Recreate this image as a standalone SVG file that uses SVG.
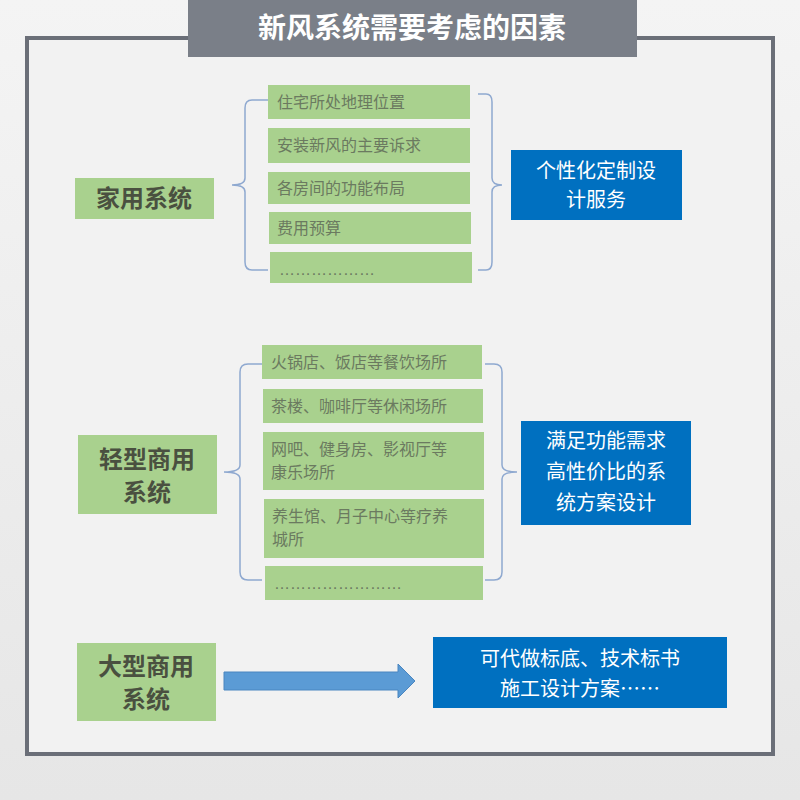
<svg xmlns="http://www.w3.org/2000/svg" width="800" height="800" viewBox="0 0 800 800">
<defs>
<linearGradient id="bg" x1="0" y1="0" x2="0" y2="1"><stop offset="0" stop-color="#f4f4f4"/><stop offset="1" stop-color="#e6e6e6"/></linearGradient>
</defs>
<style>
.g{fill:#a9d18e}
.it{font-family:"Liberation Sans","Noto Sans CJK SC",sans-serif;font-size:16px;fill:#6b7a60}
.hd{font-family:"Noto Sans CJK SC",sans-serif;font-size:24px;font-weight:bold;fill:#4a5040}
.b{fill:#0070c0}
.bt{font-family:"Noto Sans CJK SC",sans-serif;font-size:20px;fill:#fff;text-anchor:middle}
.br{fill:none;stroke:#8fa9d0;stroke-width:1.5}
</style>
<rect width="800" height="800" fill="url(#bg)"/>
<rect x="27" y="38" width="746" height="716" fill="#f2f2f2" stroke="#6b6f78" stroke-width="4"/>
<g id="title"><rect x="188" y="0" width="449" height="57" fill="#7a7f88"/>
<text x="412" y="38" font-family="Noto Sans CJK SC,sans-serif" font-size="28" font-weight="bold" fill="#fff" text-anchor="middle">新风系统需要考虑的因素</text></g>
<g id="connectors">
<path class="br" d="M268,100 H252 Q245,100 245,108 V178 Q245,185 232,185 Q245,185 245,192 V262 Q245,270 252,270 H268"/>
<path class="br" d="M478,94 H486 Q492,94 492,102 V178 Q492,185 502,185 Q492,185 492,192 V262 Q492,270 486,270 H478"/>
<path class="br" d="M262,364 H248 Q240,364 240,372 V465 Q240,472 224,472 Q240,472 240,479 V572 Q240,580 248,580 H262"/>
<path class="br" d="M485,364 H494 Q502,364 502,372 V465 Q502,472 517,472 Q502,472 502,479 V572 Q502,580 494,580 H485"/>
<path d="M224,672 H398 V664 L415,681 L398,698 V690 H224 Z" fill="#5b9bd5" stroke="#4a86c0"/>
</g>
<g id="home"><rect class="g" x="75" y="178" width="139" height="41"/><text class="hd" x="144" y="207" text-anchor="middle">家用系统</text></g>
<g id="h1"><rect class="g" x="268" y="85" width="202" height="34"/><text class="it" x="277" y="108">住宅所处地理位置</text></g>
<g id="h2"><rect class="g" x="268" y="128" width="202" height="35"/><text class="it" x="277" y="151">安装新风的主要诉求</text></g>
<g id="h3"><rect class="g" x="268" y="172" width="202" height="32"/><text class="it" x="277" y="194">各房间的功能布局</text></g>
<g id="h4"><rect class="g" x="269" y="212" width="202" height="32"/><text class="it" x="277" y="234">费用预算</text></g>
<g id="h5"><rect class="g" x="270" y="252" width="202" height="31"/><text class="it" x="279" y="275">………………</text></g>
<g id="hb"><rect class="b" x="511" y="150" width="171" height="70"/><text class="bt" x="596" y="178">个性化定制设</text><text class="bt" x="596" y="207">计服务</text></g>
<g id="light"><rect class="g" x="78" y="435" width="139" height="79"/><text class="hd" x="147" y="468" text-anchor="middle">轻型商用</text><text class="hd" x="147" y="501" text-anchor="middle">系统</text></g>
<g id="l1"><rect class="g" x="262" y="345" width="220" height="34"/><text class="it" x="271" y="368">火锅店、饭店等餐饮场所</text></g>
<g id="l2"><rect class="g" x="263" y="389" width="220" height="34"/><text class="it" x="271" y="412">茶楼、咖啡厅等休闲场所</text></g>
<g id="l3"><rect class="g" x="263" y="432" width="221" height="58"/><text class="it" x="271" y="455">网吧、健身房、影视厅等</text><text class="it" x="271" y="478">康乐场所</text></g>
<g id="l4"><rect class="g" x="264" y="499" width="220" height="59"/><text class="it" x="272" y="522">养生馆、月子中心等疗养</text><text class="it" x="272" y="545">城所</text></g>
<g id="l5"><rect class="g" x="265" y="566" width="218" height="34"/><text class="it" x="274" y="589">……………………</text></g>
<g id="lb"><rect class="b" x="521" y="421" width="170" height="104"/><text class="bt" x="606" y="448">满足功能需求</text><text class="bt" x="606" y="479">高性价比的系</text><text class="bt" x="606" y="510">统方案设计</text></g>
<g id="large"><rect class="g" x="77" y="643" width="139" height="78"/><text class="hd" x="146" y="675" text-anchor="middle">大型商用</text><text class="hd" x="146" y="708" text-anchor="middle">系统</text></g>
<g id="gb"><rect class="b" x="433" y="637" width="294" height="71"/><text class="bt" x="580" y="666">可代做标底、技术标书</text><text class="bt" x="580" y="696">施工设计方案……</text></g>
</svg>
